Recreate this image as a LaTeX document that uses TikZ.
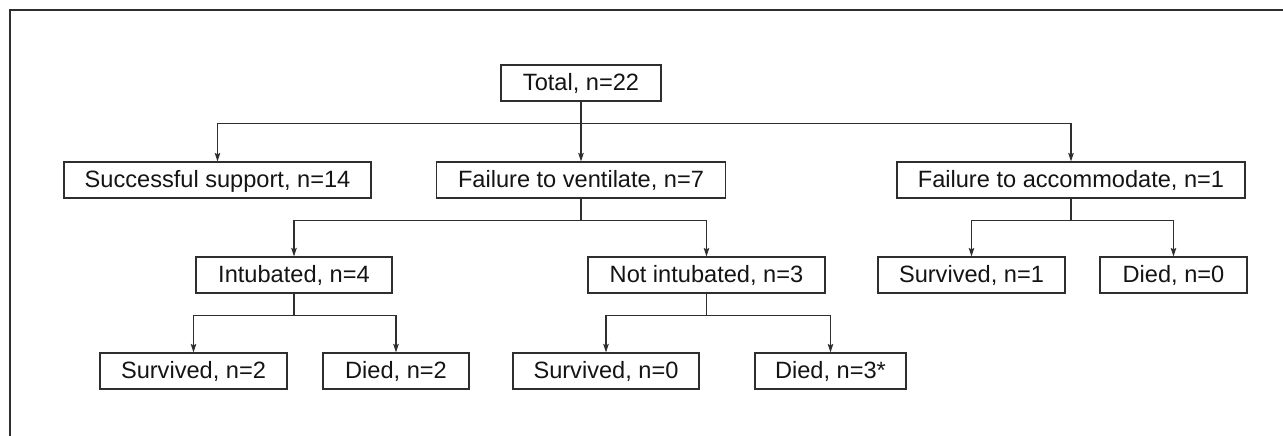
\documentclass[tikz,border=0pt]{standalone}
\usepackage{fontspec}
\setmainfont{Liberation Sans}
\usetikzlibrary{arrows.meta}
\definecolor{ln}{HTML}{2E2E2E}
\definecolor{tx}{HTML}{141414}
\begin{document}
\begin{tikzpicture}[x=1pt,y=-1pt,
  box/.style={draw=ln, line width=1.2pt, inner sep=0pt, minimum height=36pt,
    text height=15.4pt, text depth=0pt, font=\fontsize{23.6}{28}\selectfont, text=tx},
  link/.style={draw=ln, line width=1.05pt},
  arr/.style={link, -{Stealth[length=8.5pt,width=5.5pt,inset=1.5pt]}},
  frame/.style={draw=ln, line width=1.4pt}]
\useasboundingbox (0,0) rectangle (1283,436);
\draw[frame] (1290,10) -- (10,10) -- (10,440);
% row 1
\node[box, minimum width=160pt] (total) at (581,83) {Total, n=22};
% row 2
\node[box, minimum width=307pt] (succ) at (217.5,180) {Successful support, n=14};
\node[box, minimum width=289pt] (ftv) at (581,180) {Failure to ventilate, n=7};
\node[box, minimum width=348pt] (fta) at (1071,180) {Failure to accommodate, n=1};
% row 3
\node[box, minimum width=196pt] (intub) at (294,275) {Intubated, n=4};
\node[box, minimum width=237pt] (notint) at (706.5,275) {Not intubated, n=3};
\node[box, minimum width=187pt] (surv1) at (971.5,275) {Survived, n=1};
\node[box, minimum width=147pt] (died0) at (1173.5,275) {Died, n=0};
% row 4
\node[box, minimum width=187pt] (surv2) at (193.5,371) {Survived, n=2};
\node[box, minimum width=146pt] (died2) at (396,371) {Died, n=2};
\node[box, minimum width=186pt] (surv0) at (606,371) {Survived, n=0};
\node[box, minimum width=151pt] (died3) at (830.5,371) {Died, n=3*};
% connectors
\draw[link] (total.south) -- ++(0,22) coordinate (j0);
\draw[arr] (j0) -- (ftv.north);
\draw[arr] (j0) -| (succ.north);
\draw[arr] (j0) -| (fta.north);
\draw[link] (ftv.south) -- ++(0,21.5) coordinate (j1);
\draw[arr] (j1) -| (intub.north);
\draw[arr] (j1) -| (notint.north);
\draw[link] (fta.south) -- ++(0,21.5) coordinate (j2);
\draw[arr] (j2) -| (surv1.north);
\draw[arr] (j2) -| (died0.north);
\draw[link] (intub.south) -- ++(0,21.5) coordinate (j3);
\draw[arr] (j3) -| (surv2.north);
\draw[arr] (j3) -| (died2.north);
\draw[link] (notint.south) -- ++(0,21.5) coordinate (j4);
\draw[arr] (j4) -| (surv0.north);
\draw[arr] (j4) -| (died3.north);
\end{tikzpicture}
\end{document}
